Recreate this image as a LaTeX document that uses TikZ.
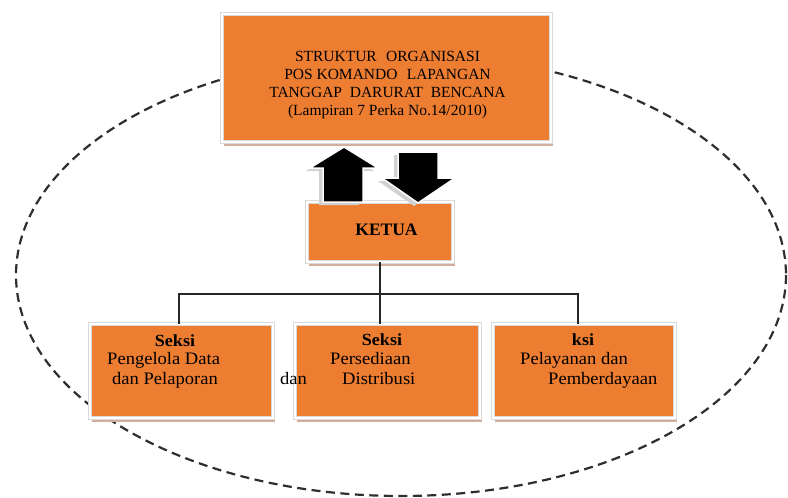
\documentclass[tikz,border=0pt]{standalone}
\usepackage{fontspec}
\setmainfont{Liberation Serif}
\newfontfamily\widefont[FakeStretch=1.06]{Liberation Serif}
\usepackage{xcolor}
\usepackage{tikz}
\usetikzlibrary{positioning,calc,shadows}
\definecolor{posorange}{HTML}{ED7D31}
\definecolor{shadowtan}{HTML}{D4AE9C}
\definecolor{framegray}{HTML}{DADADA}
\definecolor{dashgray}{HTML}{2E2E2E}

\tikzset{
  orgbox/.style={fill=posorange, draw=framegray, line width=0.5pt, double=white, double distance=2.4pt,
    inner sep=0pt, drop shadow={shadow xshift=2pt, shadow yshift=-4pt, fill=shadowtan, opacity=1}},
  blockarrow/.style={fill=black, draw=white, line width=1.5pt, line join=miter,
    drop shadow={shadow xshift=-4pt, shadow yshift=-3pt, fill=black!18, opacity=1}},
  busline/.style={draw=black!85, line width=1.4pt},
  seksitext/.style={font=\widefont\fontsize{17.5}{20}\selectfont, inner sep=0pt},
  seksihead/.style={font=\widefont\bfseries\fontsize{17}{20}\selectfont, inner sep=0pt, anchor=base}
}

\begin{document}
\begin{tikzpicture}[x=1pt, y=-1pt]
    \useasboundingbox (0,0) rectangle (788,498);
    % ellipse round the whole structure
    \draw[dashgray, line width=2.2pt, dash pattern=on 9pt off 5.5pt] (401,275) ellipse [x radius=385, y radius=221];

    \node[orgbox, minimum width=329pt, minimum height=128pt] (pos) at (386.5,78) {};
    \node[font=\fontsize{15.5}{17.7}\selectfont, align=center, inner sep=0pt, anchor=north] (postext) at (387.5,51.5)
      {STRUKTUR\hspace{0.6em}ORGANISASI\\ POS KOMANDO\hspace{0.6em}LAPANGAN\\ TANGGAP\hspace{0.5em}DARURAT\hspace{0.5em}BENCANA\\ (Lampiran 7 Perka No.14/2010)};

    \node[orgbox, minimum width=146pt, minimum height=60pt] (ketua) at (380,232) {};
    \node[font=\bfseries\fontsize{17.5}{20}\selectfont, inner sep=0pt, anchor=base] (ketuatext) at (386.5,235) {KETUA};

    \node[orgbox, minimum width=183pt, minimum height=94pt] (data) at (181.5,371) {};
    \node[orgbox, minimum width=185pt, minimum height=94pt] (distribusi) at (387.5,371) {};
    \node[orgbox, minimum width=182pt, minimum height=94pt] (pelayanan) at (584,371) {};

    % block arrows between pos and ketua
    \draw[blockarrow] (323,202) -- (323,168) -- (310,168) -- (344,147) -- (378,168) -- (363,168) -- (363,202) -- cycle;
    \draw[blockarrow] (398,152) -- (438,152) -- (438,178) -- (455,178) -- (418,203) -- (382,178) -- (398,178) -- cycle;

    % connectors
    \coordinate (bus) at (380,294);
    \draw[busline] (ketua.south) -- (bus);
    \draw[busline] (bus) -| (data.north -| 179,0);
    \draw[busline] (bus) -- (distribusi.north -| bus);
    \draw[busline] (bus) -| (pelayanan.north -| 578,0);

    % texts of the sections
    \node[seksihead] (datahead) at (175,346) {Seksi};
    \node[seksitext, anchor=base west] (data1) at (107,364) {Pengelola Data};
    \node[seksitext, anchor=base west] (data2) at (112,384) {dan Pelaporan};
    \node[seksitext, anchor=base west] (dan) at (280,384) {dan};

    \node[seksihead] (distribusihead) at (382,345) {Seksi};
    \node[seksitext, anchor=base west] (distribusi1) at (330,364) {Persediaan};
    \node[seksitext, anchor=base west] (distribusi2) at (342,384) {Distribusi};

    \node[seksihead] (pelayananhead) at (583,345) {ksi};
    \node[seksitext, anchor=base west] (pelayanan1) at (520,364) {Pelayanan dan};
    \node[seksitext, anchor=base west] (pelayanan2) at (548,384) {Pemberdayaan};
  \end{tikzpicture}
\end{document}
